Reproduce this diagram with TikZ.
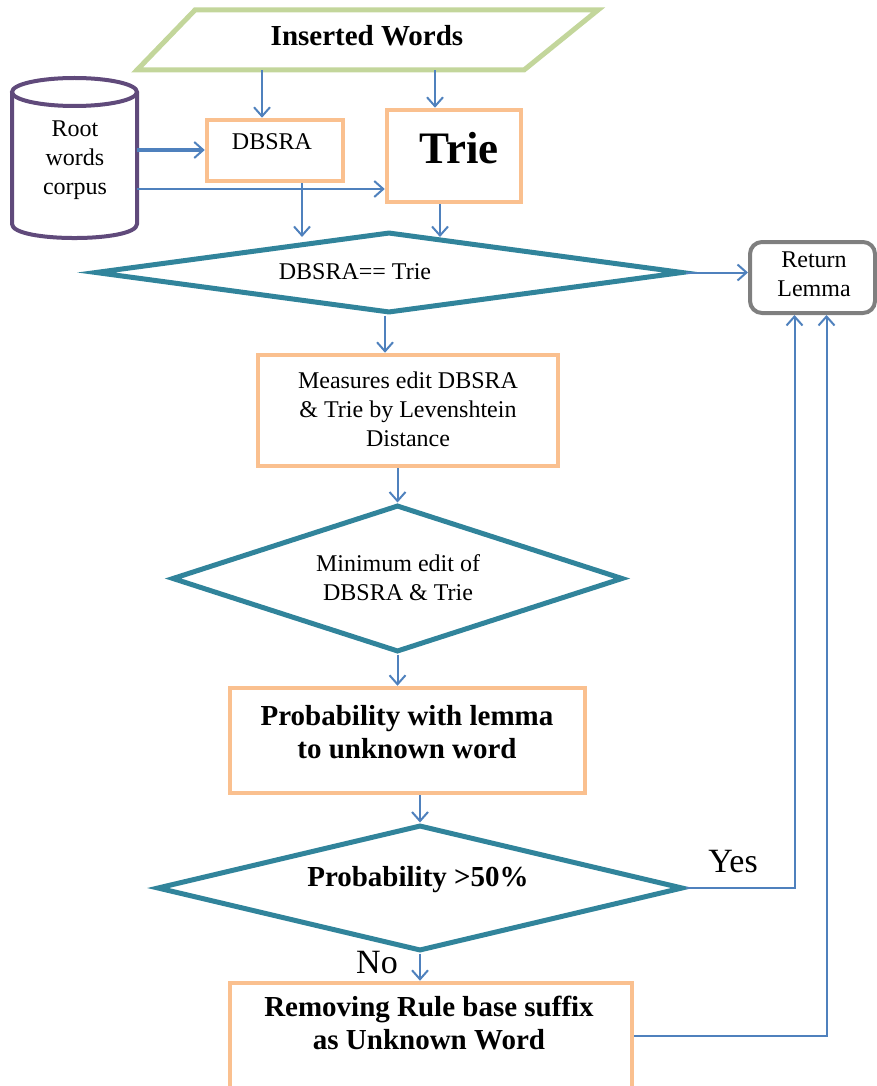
\documentclass[tikz,border=0pt]{standalone}
\usepackage{fontspec}
\setmainfont{Liberation Serif}
\usetikzlibrary{arrows.meta,shapes.geometric,calc}
\definecolor{boxor}{HTML}{FAC08F}
\definecolor{ingreen}{HTML}{C3D69B}
\definecolor{tealc}{HTML}{31849B}
\definecolor{purp}{HTML}{604A7B}
\definecolor{arblue}{HTML}{4F81BD}
\definecolor{grayb}{HTML}{7F7F7F}
\begin{document}
\begin{tikzpicture}[x=1pt,y=-1pt,
  obox/.style={draw=boxor, line width=4.5pt, rectangle, inner sep=0pt},
  dia/.style={draw=tealc, line width=5pt, diamond, inner sep=0pt},
  arr/.style={draw=arblue, line width=2pt, -{Straight Barb[length=9pt,width=16pt,line width=2pt]}},
  reg/.style={font=\fontsize{24}{29}\selectfont, align=center, inner sep=0pt},
  bld/.style={font=\bfseries\fontsize{29}{33}\selectfont, align=center, inner sep=0pt},
  lbl/.style={font=\fontsize{34}{36}\selectfont, inner sep=0pt},
  ghost/.style={rectangle, inner sep=0pt}]
\useasboundingbox (0,0) rectangle (877,1086);

% Inserted words (parallelogram)
\node[ghost, minimum width=461pt, minimum height=60pt] (inw) at (367.5,40) {};
\draw[ingreen, line width=5pt, line join=miter] (195,10) -- (598,10) -- (524,70) -- (137,70) -- cycle;
\node[bld] (inwt) at (367,36) {Inserted Words};

% Root words corpus (cylinder)
\node[ghost, minimum width=125pt, minimum height=160pt] (corpus) at (74.5,158) {};
\draw[purp, line width=4pt, fill=white] (12,92) -- (12,224) .. controls (12,242.7) and (137,242.7) .. (137,224) -- (137,92);
\draw[purp, line width=4pt, fill=white] (74.5,92) ellipse [x radius=62.5, y radius=14];
\node[reg] (corpust) at (75,160) {Root\\words\\corpus};

% DBSRA and Trie
\node[obox, minimum width=136pt, minimum height=61pt] (dbsra) at (275,150.5) {};
\node[reg] (dbsrat) at (272,142) {DBSRA};
\node[obox, minimum width=134pt, minimum height=92pt] (trie) at (454,156) {};
\node[font=\bfseries\fontsize{45}{48}\selectfont, inner sep=0pt] (triet) at (459,148) {Trie};

% Decision 1
\node[dia, minimum width=588pt, minimum height=81pt] (d1) at (389,272.5) {};
\node[reg] (d1t) at (355,272) {DBSRA== Trie};
\coordinate (d1a) at (302,237);
\coordinate (d1b) at (440,237);

% Return lemma
\node[draw=grayb, line width=4pt, rounded corners=12pt, minimum width=125pt, minimum height=71pt, inner sep=0pt] (ret) at (812.5,277.5) {};
\node[reg] (rett) at (814,274) {Return\\Lemma};

% Measures
\node[obox, minimum width=300pt, minimum height=111pt] (meas) at (408,410.5) {};
\node[reg] (meast) at (408,409) {Measures edit DBSRA\\\& Trie by Levenshtein\\Distance};

% Decision 2
\node[dia, minimum width=451pt, minimum height=147pt] (d2) at (397.5,578.5) {};
\node[reg] (d2t) at (398,578) {Minimum edit of\\DBSRA \& Trie};

% Probability
\node[obox, minimum width=355pt, minimum height=105pt] (prob) at (407.5,740.5) {};
\node[bld] (probt) at (407,732) {Probability with lemma\\to unknown word};

% Decision 3
\node[dia, minimum width=526pt, minimum height=126pt] (d3) at (420,888) {};
\node[bld] (d3t) at (418,880) {Probability >50\%};

% Removing
\node[obox, minimum width=402pt, minimum height=106pt] (rem) at (431,1036) {};
\node[bld] (remt) at (429,1023) {Removing Rule base suffix\\as Unknown Word};

% Connectors
\draw[arr] (inw.south -| 262,0) -- (dbsra.north -| 262,0);
\draw[arr] (inw.south -| 435,0) -- (trie.north -| 435,0);
\draw[arr, line width=3.5pt] (corpus.east |- 0,150) -- (dbsra.west |- 0,150);
\draw[arr] (corpus.east |- 0,189) -- (trie.west |- 0,189);
\draw[arr] (dbsra.south -| d1a) -- (d1a);
\draw[arr, line width=2.5pt] (trie.south -| d1b) -- (d1b);
\draw[arr] (d1.east) -- (ret.west |- d1.east);
\draw[arr] (d1.south -| 385,0) -- (meas.north -| 385,0);
\draw[arr] (meas.south -| d2.north) -- (d2.north);
\draw[arr] (d2.south) -- (d2.south |- prob.north);
\draw[arr] (prob.south -| d3.north) -- (d3.north);
\draw[arr] (d3.south) -- (d3.south |- rem.north);
\draw[arr] (d3.east) -| ($(ret.south)+(-18,0)$);
\draw[arr] (rem.east) -| ($(ret.south)+(14,0)$);

% Labels
\node[lbl] (yes) at (733,862) {Yes};
\node[lbl] (no) at (377,963) {No};
\end{tikzpicture}
\end{document}
